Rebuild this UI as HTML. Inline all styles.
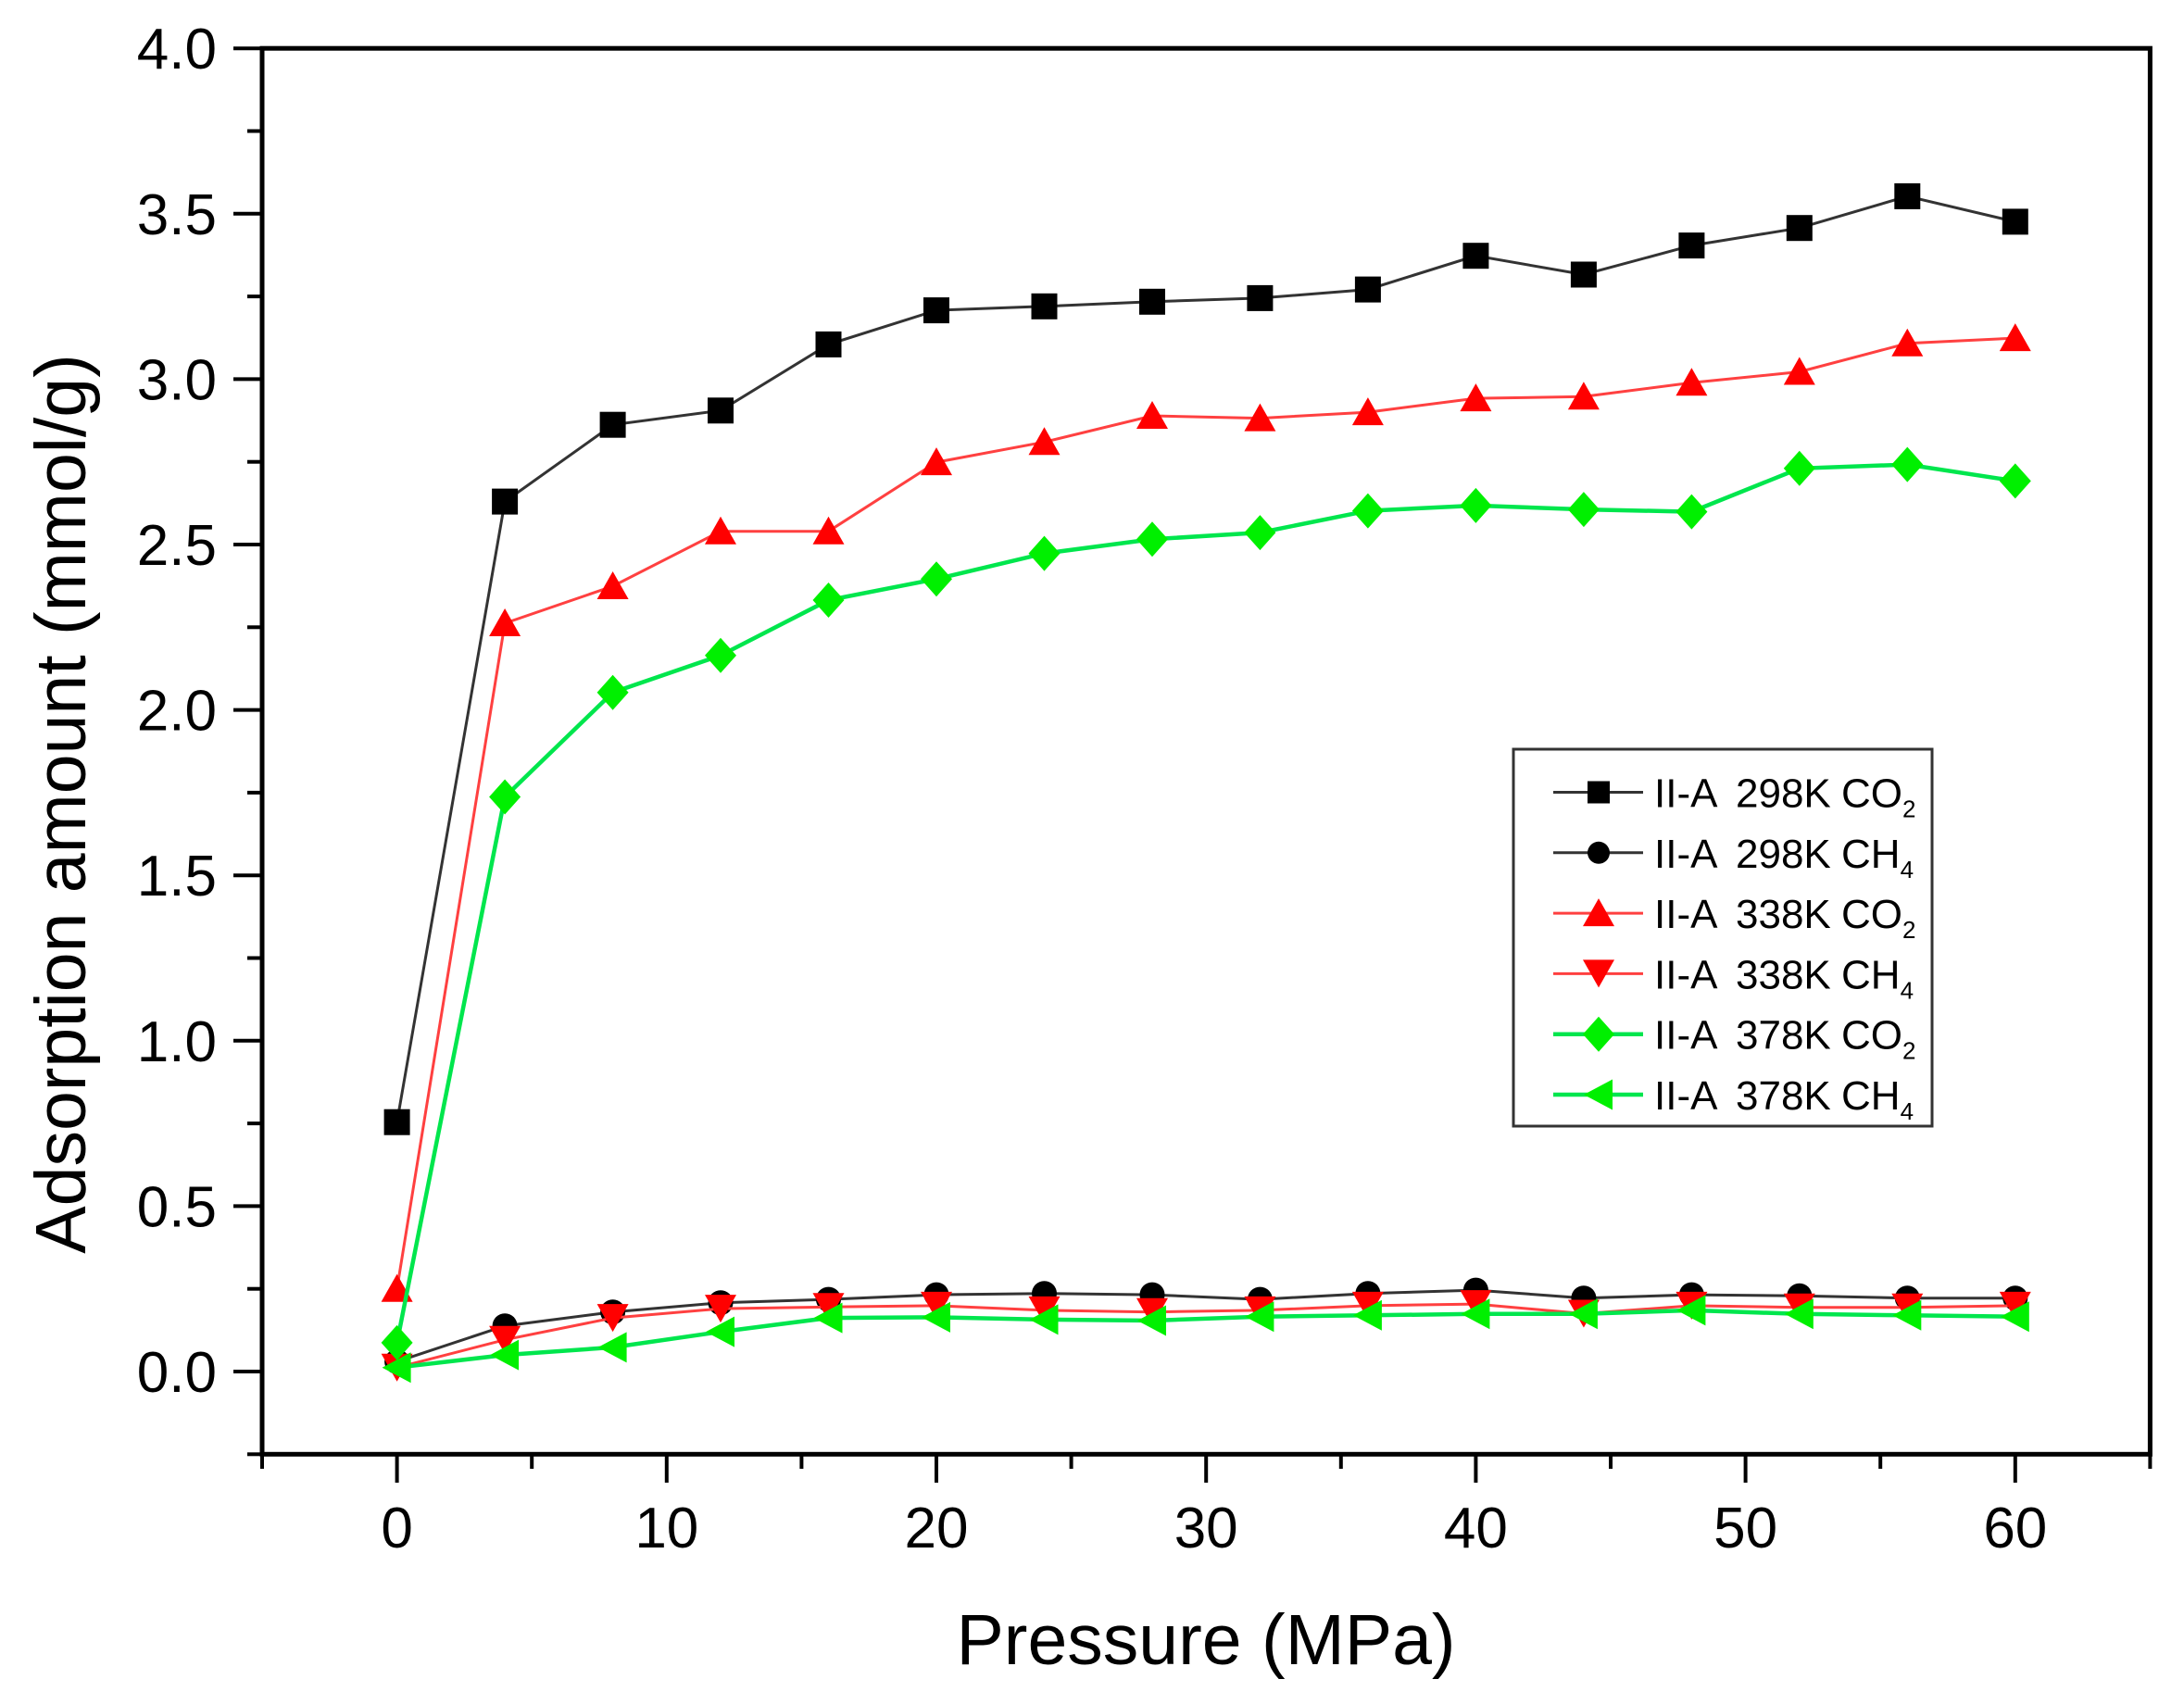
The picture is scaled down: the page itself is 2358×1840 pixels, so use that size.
<!DOCTYPE html>
<html>
<head>
<meta charset="utf-8">
<style>
html,body{margin:0;padding:0;background:#fff;}
svg{display:block;}
text{font-family:"Liberation Sans",Arial,sans-serif;fill:#000;}
</style>
</head>
<body>
<svg width="2358" height="1840" viewBox="0 0 2358 1840" xmlns="http://www.w3.org/2000/svg">
<defs>
<marker id="msq" markerUnits="userSpaceOnUse" viewBox="-20 -20 40 40" markerWidth="40" markerHeight="40" refX="0" refY="0" overflow="visible"><rect x="-14" y="-14" width="28" height="28" fill="#000"/></marker>
<marker id="mci" markerUnits="userSpaceOnUse" viewBox="-20 -20 40 40" markerWidth="40" markerHeight="40" refX="0" refY="0" overflow="visible"><circle cx="0" cy="0" r="13.5" fill="#000"/></marker>
<marker id="mup" markerUnits="userSpaceOnUse" viewBox="-20 -20 40 40" markerWidth="40" markerHeight="40" refX="0" refY="0" overflow="visible"><polygon points="0,-16 17,14 -17,14" fill="#ff0000"/></marker>
<marker id="mdn" markerUnits="userSpaceOnUse" viewBox="-20 -20 40 40" markerWidth="40" markerHeight="40" refX="0" refY="0" overflow="visible"><polygon points="-17,-15 17,-15 0,15" fill="#ff0000"/></marker>
<marker id="mdi" markerUnits="userSpaceOnUse" viewBox="-20 -20 40 40" markerWidth="40" markerHeight="40" refX="0" refY="0" overflow="visible"><polygon points="0,-19 17,0 0,19 -17,0" fill="#00f000"/></marker>
<marker id="mlt" markerUnits="userSpaceOnUse" viewBox="-20 -20 40 40" markerWidth="40" markerHeight="40" refX="0" refY="0" overflow="visible"><polygon points="-16,0 15,-16.5 15,16.5" fill="#00f000"/></marker>
</defs>

<rect x="0" y="0" width="2358" height="1840" fill="#fff"/>

<!-- Series -->
<polyline fill="none" stroke="#333" stroke-width="3" marker-start="url(#msq)" marker-mid="url(#msq)" marker-end="url(#msq)"
 points="428.6,1211.7 545.1,541.6 661.6,458.7 778,443.3 894.5,371.9 1011,335.1 1127.5,330.8 1244,325.8 1360.4,321.9 1476.9,312.6 1593.4,276.2 1709.9,296.5 1826.4,265.1 1942.8,246.2 2059.3,211.9 2175.8,239.4"/>
<polyline fill="none" stroke="#333" stroke-width="3" marker-start="url(#mci)" marker-mid="url(#mci)" marker-end="url(#mci)"
 points="428.6,1470.3 545.1,1431.7 661.6,1416.7 778,1406.7 894.5,1403.1 1011,1398.1 1127.5,1396.7 1244,1398.1 1360.4,1403.1 1476.9,1396.7 1593.4,1393.1 1709.9,1401.7 1826.4,1398.1 1942.8,1399.2 2059.3,1401.7 2175.8,1401.7"/>
<polyline fill="none" stroke="#ff4040" stroke-width="3" marker-start="url(#mup)" marker-mid="url(#mup)" marker-end="url(#mup)"
 points="428.6,1391.7 545.1,673 661.6,633 778,573.7 894.5,573.7 1011,499.1 1127.5,477.3 1244,449 1360.4,451.6 1476.9,445.1 1593.4,430.1 1709.9,428.3 1826.4,413.3 1942.8,401.5 2059.3,370.8 2175.8,365.1"/>
<polyline fill="none" stroke="#ff4040" stroke-width="3" marker-start="url(#mdn)" marker-mid="url(#mdn)" marker-end="url(#mdn)"
 points="428.6,1476.7 545.1,1446.7 661.6,1423.1 778,1413.1 894.5,1411.3 1011,1409.9 1127.5,1414.9 1244,1416.7 1360.4,1414.9 1476.9,1409.9 1593.4,1408.1 1709.9,1418.5 1826.4,1409.9 1942.8,1411.7 2059.3,1411.7 2175.8,1409.9"/>
<polyline fill="none" stroke="#00e64d" stroke-width="4.5" marker-start="url(#mdi)" marker-mid="url(#mdi)" marker-end="url(#mdi)"
 points="428.6,1449.9 545.1,860.5 661.6,747.7 778,707.7 894.5,648 1011,625.2 1127.5,597.6 1244,582.3 1360.4,575.1 1476.9,551.6 1593.4,545.9 1709.9,550.1 1826.4,552.6 1942.8,505.8 2059.3,501.6 2175.8,519.4"/>
<polyline fill="none" stroke="#00e64d" stroke-width="4.5" marker-start="url(#mlt)" marker-mid="url(#mlt)" marker-end="url(#mlt)"
 points="428.6,1476.7 545.1,1463.1 661.6,1454.9 778,1438.1 894.5,1423.1 1011,1422.4 1127.5,1424.9 1244,1426 1360.4,1421.7 1476.9,1420.3 1593.4,1418.8 1709.9,1418.8 1826.4,1414.9 1942.8,1418.8 2059.3,1420.3 2175.8,1421.7"/>

<!-- Axes frame -->
<rect x="283" y="52.2" width="2038.4" height="1518.1" fill="none" stroke="#000" stroke-width="5"/>

<!-- Y ticks -->
<g stroke="#000" stroke-width="4">
<line x1="252" y1="1481" x2="283" y2="1481"/>
<line x1="252" y1="1302.4" x2="283" y2="1302.4"/>
<line x1="252" y1="1123.8" x2="283" y2="1123.8"/>
<line x1="252" y1="945.2" x2="283" y2="945.2"/>
<line x1="252" y1="766.6" x2="283" y2="766.6"/>
<line x1="252" y1="588" x2="283" y2="588"/>
<line x1="252" y1="409.4" x2="283" y2="409.4"/>
<line x1="252" y1="230.8" x2="283" y2="230.8"/>
<line x1="252" y1="52.2" x2="283" y2="52.2"/>
<line x1="267" y1="1570.3" x2="283" y2="1570.3"/>
<line x1="267" y1="1391.7" x2="283" y2="1391.7"/>
<line x1="267" y1="1213.1" x2="283" y2="1213.1"/>
<line x1="267" y1="1034.5" x2="283" y2="1034.5"/>
<line x1="267" y1="855.9" x2="283" y2="855.9"/>
<line x1="267" y1="677.3" x2="283" y2="677.3"/>
<line x1="267" y1="498.7" x2="283" y2="498.7"/>
<line x1="267" y1="320.1" x2="283" y2="320.1"/>
<line x1="267" y1="141.5" x2="283" y2="141.5"/>
</g>
<!-- X ticks -->
<g stroke="#000" stroke-width="4">
<line x1="428.6" y1="1570" x2="428.6" y2="1601"/>
<line x1="719.8" y1="1570" x2="719.8" y2="1601"/>
<line x1="1011" y1="1570" x2="1011" y2="1601"/>
<line x1="1302.2" y1="1570" x2="1302.2" y2="1601"/>
<line x1="1593.4" y1="1570" x2="1593.4" y2="1601"/>
<line x1="1884.6" y1="1570" x2="1884.6" y2="1601"/>
<line x1="2175.8" y1="1570" x2="2175.8" y2="1601"/>
<line x1="283" y1="1570" x2="283" y2="1586"/>
<line x1="574.2" y1="1570" x2="574.2" y2="1586"/>
<line x1="865.4" y1="1570" x2="865.4" y2="1586"/>
<line x1="1156.6" y1="1570" x2="1156.6" y2="1586"/>
<line x1="1447.8" y1="1570" x2="1447.8" y2="1586"/>
<line x1="1739" y1="1570" x2="1739" y2="1586"/>
<line x1="2030.2" y1="1570" x2="2030.2" y2="1586"/>
<line x1="2321.4" y1="1570" x2="2321.4" y2="1586"/>
</g>

<!-- Y tick labels -->
<g font-size="62" text-anchor="end">
<text x="234" y="1503">0.0</text>
<text x="234" y="1324.4">0.5</text>
<text x="234" y="1145.8">1.0</text>
<text x="234" y="967.2">1.5</text>
<text x="234" y="788.6">2.0</text>
<text x="234" y="610">2.5</text>
<text x="234" y="431.4">3.0</text>
<text x="234" y="252.8">3.5</text>
<text x="234" y="74.2">4.0</text>
</g>
<!-- X tick labels -->
<g font-size="62" text-anchor="middle">
<text x="428.6" y="1671">0</text>
<text x="719.8" y="1671">10</text>
<text x="1011" y="1671">20</text>
<text x="1302.2" y="1671">30</text>
<text x="1593.4" y="1671">40</text>
<text x="1884.6" y="1671">50</text>
<text x="2175.8" y="1671">60</text>
</g>

<!-- Axis titles -->
<text x="1302" y="1797" font-size="77" text-anchor="middle">Pressure (MPa)</text>
<text transform="translate(92,868) rotate(-90)" font-size="77" text-anchor="middle">Adsorption amount (mmol/g)</text>

<!-- Legend -->
<rect x="1634" y="809" width="452" height="407" fill="#fff" stroke="#333" stroke-width="3"/>
<g>
<line x1="1677" y1="855.5" x2="1774" y2="855.5" stroke="#333" stroke-width="3"/>
<rect x="1714" y="843.5" width="24" height="24" fill="#000"/>
<line x1="1677" y1="920.8" x2="1774" y2="920.8" stroke="#333" stroke-width="3"/>
<circle cx="1726" cy="920.8" r="12" fill="#000"/>
<line x1="1677" y1="986.1" x2="1774" y2="986.1" stroke="#ff4040" stroke-width="3"/>
<polygon points="1726,970.1 1743,1000.1 1709,1000.1" fill="#ff0000"/>
<line x1="1677" y1="1051.4" x2="1774" y2="1051.4" stroke="#ff4040" stroke-width="3"/>
<polygon points="1709,1036.4 1743,1036.4 1726,1066.4" fill="#ff0000"/>
<line x1="1677" y1="1116.7" x2="1774" y2="1116.7" stroke="#00e64d" stroke-width="4.5"/>
<polygon points="1726,1097.7 1743,1116.7 1726,1135.7 1709,1116.7" fill="#00f000"/>
<line x1="1677" y1="1182" x2="1774" y2="1182" stroke="#00e64d" stroke-width="4.5"/>
<polygon points="1710,1182 1741,1165.5 1741,1198.5" fill="#00f000"/>
</g>
<g font-size="44" fill="#1a1a1a">
<text x="1786" y="871.5">II-A<tspan x="1874">298K</tspan><tspan x="1988">CO</tspan><tspan font-size="26" dy="11">2</tspan></text>
<text x="1786" y="936.8">II-A<tspan x="1874">298K</tspan><tspan x="1988">CH</tspan><tspan font-size="26" dy="11">4</tspan></text>
<text x="1786" y="1002.1">II-A<tspan x="1874">338K</tspan><tspan x="1988">CO</tspan><tspan font-size="26" dy="11">2</tspan></text>
<text x="1786" y="1067.4">II-A<tspan x="1874">338K</tspan><tspan x="1988">CH</tspan><tspan font-size="26" dy="11">4</tspan></text>
<text x="1786" y="1132.7">II-A<tspan x="1874">378K</tspan><tspan x="1988">CO</tspan><tspan font-size="26" dy="11">2</tspan></text>
<text x="1786" y="1198">II-A<tspan x="1874">378K</tspan><tspan x="1988">CH</tspan><tspan font-size="26" dy="11">4</tspan></text>
</g>
</svg>
</body>
</html>
